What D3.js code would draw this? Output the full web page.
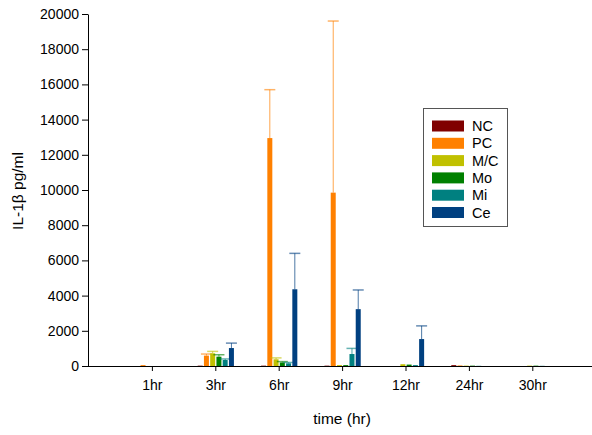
<!DOCTYPE html>
<html><head><meta charset="utf-8">
<script src="https://cdn.jsdelivr.net/npm/d3@7"></script>
<style>body{margin:0;background:#fff}svg{display:block;font-family:"Liberation Sans",Arial,sans-serif}</style>
</head><body><svg id="c" width="592" height="435"></svg>
<script>
const categories = ["1hr","3hr","6hr","9hr","12hr","24hr","30hr"];
const seriesNames = ["NC","PC","M/C","Mo","Mi","Ce"];
const seriesColors = ["#800000","#FF8000","#C0C000","#008000","#008080","#004080"];
const NC  = [0, 20, 20, 20, 0, 50, 0];
const PC  = [50, 590, 12950, 9850, 0, 30, 0];
const MC  = [0, 720, 380, 50, 100, 20, 20];
const Mo  = [0, 530, 200, 50, 80, 20, 20];
const Mi  = [0, 340, 150, 680, 50, 10, 10];
const Ce  = [0, 1020, 4360, 3230, 1530, 0, 0];
const NCerr = [0, 0, 0, 0, 0, 0, 0];
const PCerr = [0, 90, 2750, 9750, 0, 0, 0];
const MCerr = [0, 110, 80, 0, 0, 0, 0];
const Moerr = [0, 110, 50, 0, 0, 0, 0];
const Mierr = [0, 60, 50, 320, 0, 0, 0];
const Ceerr = [0, 280, 2040, 1090, 750, 0, 0];
const yTicks = [0,2000,4000,6000,8000,10000,12000,14000,16000,18000,20000];

const values = [NC,PC,MC,Mo,Mi,Ce];
const errs = [NCerr,PCerr,MCerr,Moerr,Mierr,Ceerr];

const svg = d3.select("#c");
const step = 63.4;
const x = d3.scaleBand().domain(categories).range([89 + step/2, 89 + step*7.5]).padding(0);
const xs = d3.scaleBand().domain(seriesNames).range([-18.75, 18.75]).paddingInner(0.2).paddingOuter(0.1);
const y = d3.scaleLinear().domain([0,20000]).range([366,14]);

// y axis
const ya = svg.append("g").attr("transform","translate(88,0)")
  .call(d3.axisLeft(y).tickValues(yTicks).tickSize(6).tickSizeOuter(0).tickPadding(3).tickFormat(d3.format("d")));
ya.select(".domain").attr("stroke","#000");
ya.selectAll("text").attr("font-size","14px").attr("fill","#000").attr("font-family","Liberation Sans, Arial, sans-serif");

// bars
categories.forEach((c,i)=>{
  seriesNames.forEach((s,j)=>{
    const v = values[j][i];
    const cx = x(c) + x.bandwidth()/2 + xs(s);
    const w = xs.bandwidth();
    if (v > 0) {
      svg.append("rect").attr("x",cx).attr("width",w)
        .attr("y",y(v)).attr("height",y(0)-y(v)).attr("fill",seriesColors[j]);
    }
    const e = errs[j][i];
    if (e > 0) {
      const mx = cx + w/2;
      svg.append("line").attr("x1",mx).attr("x2",mx).attr("y1",y(v)).attr("y2",y(v+e))
        .attr("stroke",seriesColors[j]).attr("stroke-width",1).attr("stroke-opacity",0.7);
      svg.append("line").attr("x1",mx-5.5).attr("x2",mx+5.5).attr("y1",y(v+e)).attr("y2",y(v+e))
        .attr("stroke",seriesColors[j]).attr("stroke-width",1.5).attr("stroke-opacity",0.6);
    }
  });
});

// x axis
const xa = svg.append("g").attr("transform","translate(0,366)")
  .call(d3.axisBottom(x).tickSize(5).tickSizeOuter(0).tickPadding(9));
xa.select(".domain").attr("d","M88,0.5H592").attr("stroke","#000");
xa.selectAll("text").attr("font-size","14px").attr("fill","#000").attr("font-family","Liberation Sans, Arial, sans-serif");

// titles
svg.append("text").attr("x",342).attr("y",424).attr("text-anchor","middle")
  .attr("font-size","15.5px").text("time (hr)");
svg.append("text").attr("transform","translate(23,191) rotate(-90)").attr("text-anchor","middle")
  .attr("font-size","15.5px").text("IL-1β pg/ml");

// legend
const lg = svg.append("g");
lg.append("rect").attr("x",423.5).attr("y",108.5).attr("width",84).attr("height",118)
  .attr("fill","#fff").attr("stroke","#555").attr("stroke-width",1);
seriesNames.forEach((s,j)=>{
  const cy = 126 + j*17.3;
  lg.append("rect").attr("x",432).attr("y",cy-5.5).attr("width",32).attr("height",11).attr("fill",seriesColors[j]);
  lg.append("text").attr("x",472).attr("y",cy+5).attr("font-size","14.5px").text(s);
});
</script></body></html>
